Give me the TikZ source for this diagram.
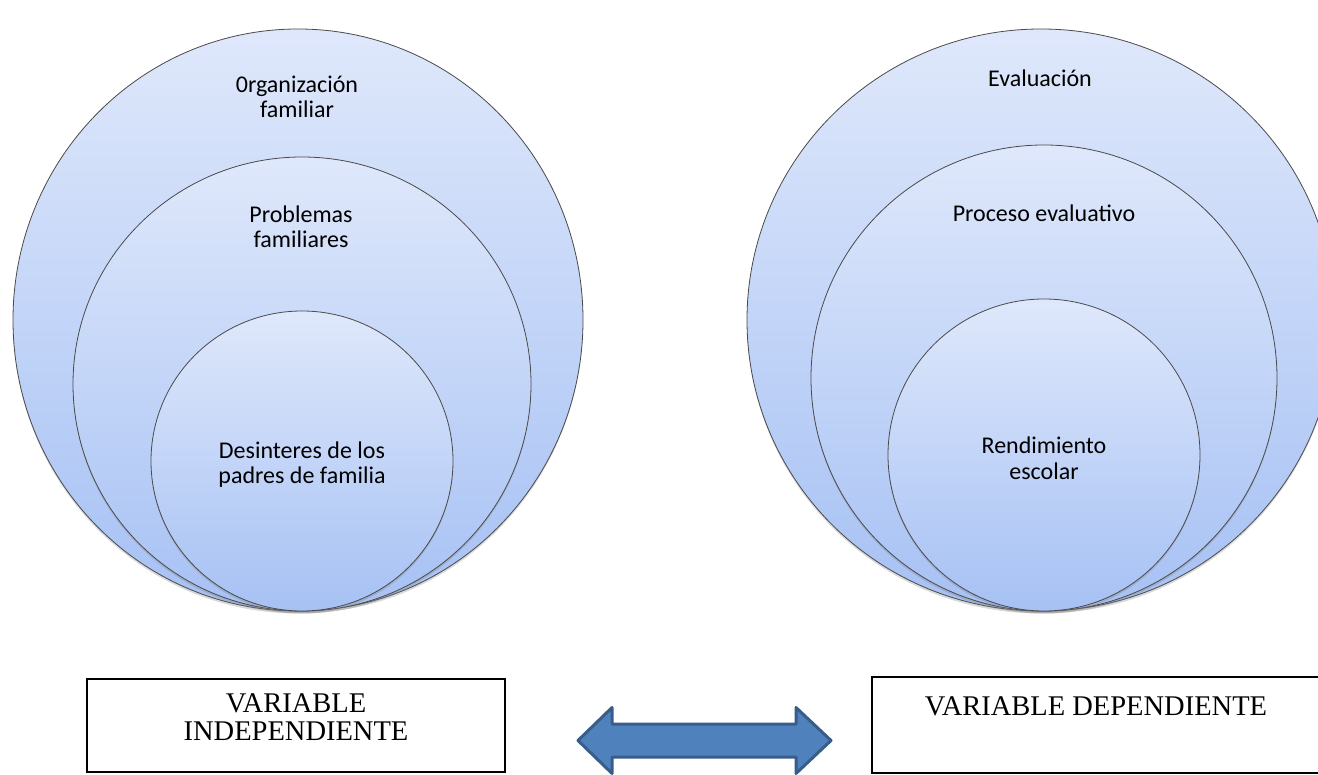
\documentclass[tikz,border=0pt]{standalone}
\usepackage{fontspec}
\setmainfont{Carlito}
\newfontfamily\tnr{Liberation Serif}
\usetikzlibrary{shapes.geometric,shadows}
\definecolor{ring_top}{HTML}{DFE8FB}
\definecolor{ring_bot}{HTML}{A6C1F4}
\definecolor{ring_line}{HTML}{4A4A4A}
\definecolor{arr_fill}{HTML}{4F81BD}
\definecolor{arr_line}{HTML}{385D8A}

\begin{document}
\begin{tikzpicture}[x=1pt, y=-1pt,
            ring/.style={ellipse, draw=ring_line, line width=0.8pt, inner sep=0pt,
                top color=ring_top, bottom color=ring_bot,
                drop shadow={shadow xshift=0pt, shadow yshift=-2.5pt, opacity=0.3}},
            lbl/.style={font=\fontsize{24}{25}\selectfont, align=center, anchor=base},
            varbox/.style={draw=black, line width=1.2pt, inner sep=0pt},
            vlbl/.style={font=\tnr\fontsize{28.5}{27.5}\selectfont, align=center, anchor=base}]
            \useasboundingbox (0, 0) rectangle (1318, 775);
            \clip (0, 0) rectangle (1318, 775);

            \node[ring, minimum width=570, minimum height=582] (o1) at (298, 320) {};
            \node[ring, minimum width=458, minimum height=454] (o2) at (302, 384) {};
            \node[ring, minimum width=302, minimum height=300] (o3) at (302, 461) {};

            \node[ring, minimum width=588, minimum height=582] (e1) at (1041, 320) {};
            \node[ring, minimum width=466, minimum height=466] (e2) at (1044, 378) {};
            \node[ring, minimum width=312, minimum height=312] (e3) at (1044, 455) {};

            \node[lbl] (t1) at (297, 118) {0rganización\\familiar};
            \node[lbl] (t2) at (301, 248) {Problemas\\familiares};
            \node[lbl] (t3) at (302, 484) {Desinteres de los\\padres de familia};
            \node[lbl] (t4) at (1040, 87) {Evaluación};
            \node[lbl] (t5) at (1044, 222) {Proceso evaluativo};
            \node[lbl] (t6) at (1044, 479) {Rendimiento\\escolar};

            \node[varbox, minimum width=418, minimum height=93] (vi) at (296, 725.5) {};
            \node[varbox, minimum width=448, minimum height=96] (vd) at (1096, 725) {};
            \node[vlbl] (vit) at (296, 740) {VARIABLE\\INDEPENDIENTE};
            \node[vlbl] (vdt) at (1096, 715) {VARIABLE DEPENDIENTE};

            \coordinate (a1) at (578, 740.5);
            \coordinate (a2) at (831, 740.5);
            \filldraw[arr_line, fill=arr_fill, line width=3pt, line join=round]
                (a1) -- (612, 707.5) -- (612, 724) -- (796, 724) -- (796, 707.5) -- (a2)
                -- (796, 773.5) -- (796, 757) -- (612, 757) -- (612, 773.5) -- cycle;

        \end{tikzpicture}
\end{document}
